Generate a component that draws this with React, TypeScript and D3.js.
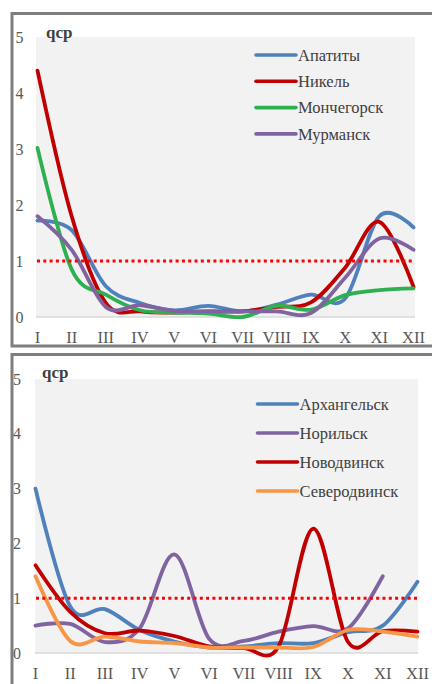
import * as d3 from 'd3';

// months on the x axis
const months = ['I', 'II', 'III', 'IV', 'V', 'VI', 'VII', 'VIII', 'IX', 'X', 'XI', 'XII'];
const yTicks = [0, 1, 2, 3, 4, 5];
const threshold = 1;
const yLabel = 'qcp';

// top panel
const topNames = ['Апатиты', 'Никель', 'Мончегорск', 'Мурманск'];
const topColors = ['#4f81bd', '#c00000', '#2eb050', '#8064a2'];
const apatity = [1.72, 1.55, 0.55, 0.25, 0.12, 0.2, 0.1, 0.22, 0.4, 0.33, 1.8, 1.6];
const nikel = [4.4, 1.8, 0.25, 0.1, 0.08, 0.1, 0.1, 0.18, 0.26, 0.88, 1.7, 0.54];
const monchegorsk = [3.02, 0.85, 0.4, 0.12, 0.08, 0.06, 0.0, 0.2, 0.13, 0.39, 0.48, 0.51];
const murmansk = [1.8, 1.2, 0.18, 0.21, 0.11, 0.1, 0.1, 0.1, 0.07, 0.7, 1.4, 1.2];

// bottom panel
const bottomNames = ['Архангельск', 'Норильск', 'Новодвинск', 'Северодвинск'];
const bottomColors = ['#4f81bd', '#8064a2', '#c00000', '#f79646'];
const arkhangelsk = [3.0, 0.85, 0.8, 0.42, 0.21, 0.1, 0.12, 0.18, 0.18, 0.38, 0.5, 1.3];
const norilsk = [0.5, 0.53, 0.2, 0.45, 1.8, 0.26, 0.22, 0.39, 0.49, 0.45, 1.4, null];
const novodvinsk = [1.6, 0.75, 0.36, 0.41, 0.31, 0.12, 0.09, 0.12, 2.27, 0.2, 0.4, 0.39];
const severodvinsk = [1.4, 0.22, 0.3, 0.21, 0.18, 0.1, 0.1, 0.1, 0.11, 0.42, 0.39, 0.3];

const FONT = '"Liberation Serif", "Times New Roman", serif';

type Layout = {
  frameY: number;
  frameH: number;
  left: number;
  right: number;
  top: number;
  bottom: number;
  xFrom: number;
  xTo: number;
  tickX: number;
  labelY: number;
  qcpX: number;
  qcpY: number;
  legendX: number;
  legendY: number;
  legendStep: number;
};

function Panel({ names, colors, series, lay }: {
  names: string[];
  colors: string[];
  series: (number | null)[][];
  lay: Layout;
}) {
  const x = d3.scalePoint<string>().domain(months).range([lay.xFrom, lay.xTo]);
  const y = d3.scaleLinear().domain([0, 5]).range([lay.bottom, lay.top]);

  // Excel-like smoothed line
  const line = d3.line<number | null>()
    .defined(d => d != null)
    .x((_, i) => x(months[i]) as number)
    .y(d => y(d as number))
    .curve(d3.curveCardinal.tension(0));

  return (
    <g>
      <rect x={12} y={lay.frameY} width={440} height={lay.frameH}
        fill="white" stroke="#7f7f7f" strokeWidth={3} />
      <rect x={lay.left} y={lay.top} width={lay.right - lay.left}
        height={lay.bottom - lay.top} fill="#f2f2f2" />
      <line x1={lay.left} x2={lay.right} y1={lay.bottom} y2={lay.bottom}
        stroke="#d9d9d9" strokeWidth={1.5} />

      {yTicks.map(t => (
        <text key={t} x={lay.tickX} y={y(t)} dy="0.35em" textAnchor="end"
          fontFamily={FONT} fontSize={16} fill="#595959">{t}</text>
      ))}
      {months.map(m => (
        <text key={m} x={x(m)} y={lay.labelY} dy="0.35em" textAnchor="middle"
          fontFamily={FONT} fontSize={16.5} fill="#595959">{m}</text>
      ))}
      <text x={lay.qcpX} y={lay.qcpY} fontFamily={FONT} fontSize={17}
        fontWeight="bold" fill="#404040">{yLabel}</text>

      {series.map((s, i) => (
        <path key={names[i]} d={line(s) ?? ''} fill="none" stroke={colors[i]}
          strokeWidth={3.8} strokeLinecap="round" strokeLinejoin="round" />
      ))}

      <line x1={lay.left + 1} x2={lay.right} y1={y(threshold)} y2={y(threshold)}
        stroke="#ff0000" strokeWidth={3} strokeDasharray="3 3.3" />

      {names.map((n, i) => (
        <g key={n} transform={`translate(${lay.legendX},${lay.legendY + i * lay.legendStep})`}>
          <line x1={0} x2={40} y1={0} y2={0} stroke={colors[i]} strokeWidth={3.6}
            strokeLinecap="round" />
          <text x={42} y={0} dy="0.35em" fontFamily={FONT} fontSize={16.5}
            fill="#404040">{n}</text>
        </g>
      ))}
    </g>
  );
}

const topLayout: Layout = {
  frameY: 13.5, frameH: 332.5,
  left: 36, right: 415, top: 37, bottom: 317,
  xFrom: 37.5, xTo: 413.5,
  tickX: 23.5, labelY: 337,
  qcpX: 46, qcpY: 37.5,
  legendX: 256, legendY: 55, legendStep: 26.3,
};

const bottomLayout: Layout = {
  frameY: 354.5, frameH: 340,
  left: 35, right: 418, top: 379, bottom: 653,
  xFrom: 35.5, xTo: 417.5,
  tickX: 21, labelY: 673,
  qcpX: 42, qcpY: 378,
  legendX: 257.5, legendY: 404, legendStep: 29,
};

export default function App() {
  return (
    <svg width={432} height={684}
      style={{ position: 'absolute', left: 0, top: 0, background: 'white' }}>
      <Panel names={topNames} colors={topColors}
        series={[apatity, nikel, monchegorsk, murmansk]} lay={topLayout} />
      <Panel names={bottomNames} colors={bottomColors}
        series={[arkhangelsk, norilsk, novodvinsk, severodvinsk]} lay={bottomLayout} />
    </svg>
  );
}
